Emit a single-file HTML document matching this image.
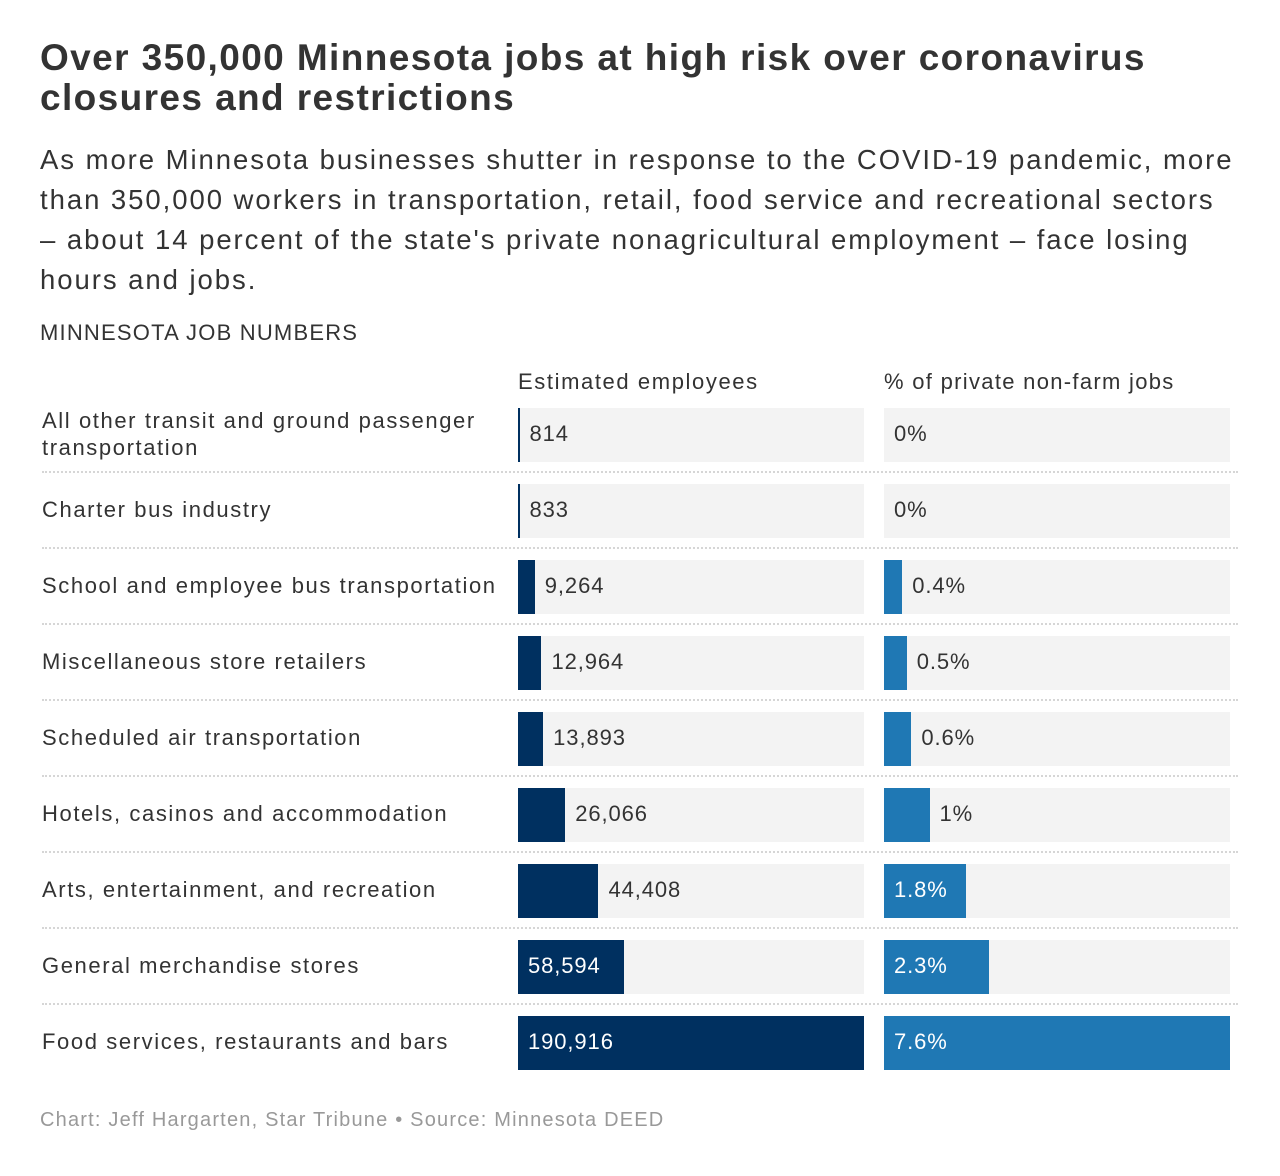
<!DOCTYPE html>
<html><head><meta charset="utf-8"><style>
body{margin:0;background:#fff;width:1280px;height:1176px;font-family:"Liberation Sans",sans-serif;color:#333;position:relative;overflow:hidden}
.abs{position:absolute}
h1{position:absolute;left:40px;top:38px;margin:0;font-size:37px;line-height:40px;font-weight:bold;color:#333;width:1240px;letter-spacing:1.4px;white-space:nowrap}
.sub{left:40px;top:140px;font-size:27.5px;line-height:40px;width:1240px;color:#333;letter-spacing:1.95px;white-space:nowrap}
.lbl{font-size:22px;line-height:27px;color:#333;letter-spacing:1.6px}
.bg{background:#f3f3f3}
.val{font-size:22px;line-height:26px;letter-spacing:0.9px}
.sep{left:42px;width:1196px;border-top:2px dotted #d6d6d6;height:0}
</style></head><body>
<h1>Over 350,000 Minnesota jobs at high risk over coronavirus<br>closures and restrictions</h1>
<div class="abs sub">As more Minnesota businesses shutter in response to the COVID-19 pandemic, more<br>than 350,000 workers in transportation, retail, food service and recreational sectors<br>– about 14 percent of the state's private nonagricultural employment – face losing<br>hours and jobs.</div>
<div class="abs" style="left:40px;top:320px;font-size:22px;letter-spacing:1.2px">MINNESOTA JOB NUMBERS</div>
<div class="abs lbl" style="left:518px;top:368px">Estimated employees</div>
<div class="abs lbl" style="left:884px;top:368px;letter-spacing:1.3px">% of private non-farm jobs</div>
<div id="rows"></div>
<div class="abs" style="left:40px;top:1109px;font-size:20px;color:#999;letter-spacing:1.2px">Chart: Jeff Hargarten, Star Tribune • Source: Minnesota DEED</div>
<script>
const categories=["All other transit and ground passenger transportation","Charter bus industry","School and employee bus transportation","Miscellaneous store retailers","Scheduled air transportation","Hotels, casinos and accommodation","Arts, entertainment, and recreation","General merchandise stores","Food services, restaurants and bars"];
const employees=[814,833,9264,12964,13893,26066,44408,58594,190916];
const percents=[0,0,0.4,0.5,0.6,1,1.8,2.3,7.6];
const pctLabels=["0%","0%","0.4%","0.5%","0.6%","1%","1.8%","2.3%","7.6%"];
const root=document.getElementById('rows');
const W=346,top0=408,pitch=76,bh=54;
const xE=v=>v/Math.max(...employees)*W;
const xP=v=>v/Math.max(...percents)*W;
function mk(cls,st){const d=document.createElement('div');d.className='abs '+cls;Object.assign(d.style,st);root.appendChild(d);return d;}
function col(x0,w,txt,color,i,kind){
  const y=top0+i*pitch;
  const bg=mk('bg',{left:x0+'px',top:y+'px',width:W+'px',height:bh+'px'});
  
  
  const b=mk('',{left:x0+'px',top:y+'px',width:Math.max(w,kind==='employees'?2:0)+'px',height:bh+'px',background:color});
  
  
  const tw=txt.length*13;
  const inside=w>tw+20;
  const t=mk('val',{left:(inside?x0+10:x0+w+10)+'px',top:(y+13)+'px',color:inside?'#fff':'#333'});
  t.textContent=txt;
  
  
}
categories.forEach((c,i)=>{
  const y=top0+i*pitch;
  const two=c.length>45;
  const l=mk('lbl',{left:'42px',top:(two?y-1:y+12)+'px',width:'470px'});
  l.textContent=c;
  
  
  col(518,xE(employees[i]),employees[i].toLocaleString('en-US'),'#003060',i,'employees');
  col(884,xP(percents[i]),pctLabels[i],'#1f78b4',i,'percent');
  if(i<categories.length-1){const s=mk('sep',{top:(y+bh+9)+'px'});
  
  }
});
</script>
</body></html>
